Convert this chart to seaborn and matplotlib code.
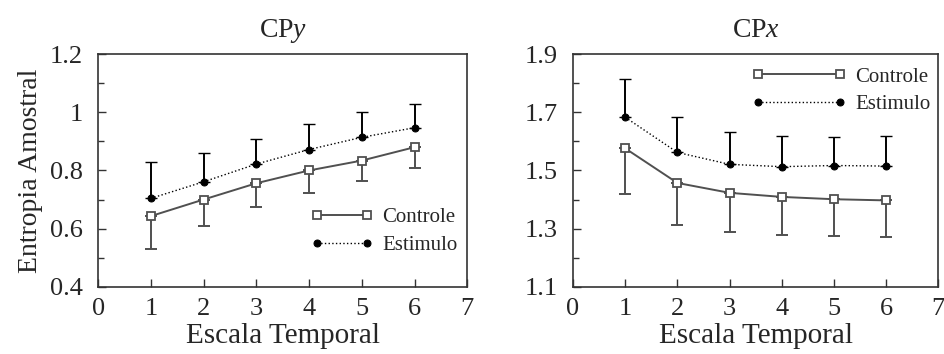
import numpy as np
import pandas as pd
import matplotlib
matplotlib.use("Agg")
import matplotlib.pyplot as plt
from matplotlib.ticker import MultipleLocator, FormatStrFormatter
import seaborn as sns

# escala temporal
escala = [1, 2, 3, 4, 5, 6]

# CPy
cpy_controle = [0.643, 0.700, 0.756, 0.800, 0.834, 0.880]
cpy_controle_err = [0.114, 0.090, 0.080, 0.079, 0.070, 0.071]
cpy_estimulo = [0.704, 0.761, 0.822, 0.872, 0.914, 0.947]
cpy_estimulo_err = [0.124, 0.100, 0.087, 0.087, 0.088, 0.083]
cpy_yticks = [0.4, 0.6, 0.8, 1.0, 1.2]

# CPx
cpx_controle = [1.576, 1.457, 1.423, 1.409, 1.401, 1.397]
cpx_controle_err = [0.157, 0.144, 0.136, 0.131, 0.126, 0.125]
cpx_estimulo = [1.683, 1.562, 1.521, 1.513, 1.517, 1.515]
cpx_estimulo_err = [0.131, 0.122, 0.111, 0.106, 0.099, 0.102]
cpx_yticks = [1.1, 1.3, 1.5, 1.7, 1.9]

sns.set_style("ticks")
plt.rcParams['font.family'] = ['Liberation Serif', 'DejaVu Serif']
plt.rcParams['mathtext.fontset'] = 'custom'
plt.rcParams['mathtext.it'] = 'Liberation Serif:italic'
plt.rcParams['mathtext.rm'] = 'Liberation Serif'

fig = plt.figure(figsize=(9.44, 3.54), dpi=100)
ax1 = fig.add_axes([0.104, 0.190, 0.391, 0.657])
ax2 = fig.add_axes([0.607, 0.190, 0.387, 0.657])

cor_ctrl = "#505050"


def painel(ax, ctrl, ctrl_err, est, est_err, yticks, titulo, yfmt, leg_pos, hlen):
    df = pd.DataFrame({
        "Escala": escala * 2,
        "Entropia": ctrl + est,
        "Grupo": ["Controle"] * 6 + ["Estimulo"] * 6,
    })
    # barras de erro (unilaterais)
    ax.errorbar(escala, ctrl, yerr=[ctrl_err, [0] * 6], fmt="none",
                ecolor=cor_ctrl, elinewidth=1.4, capsize=4, capthick=1.4, zorder=1)
    ax.errorbar(escala, est, yerr=[[0] * 6, est_err], fmt="none",
                ecolor="black", elinewidth=1.4, capsize=4, capthick=1.0, zorder=1)
    sns.lineplot(data=df[df.Grupo == "Controle"], x="Escala", y="Entropia", ax=ax,
                 color=cor_ctrl, linewidth=1.4, marker="s", markersize=5.5,
                 markerfacecolor="white", markeredgecolor=cor_ctrl, markeredgewidth=1.3,
                 label="Controle", zorder=3)
    sns.lineplot(data=df[df.Grupo == "Estimulo"], x="Escala", y="Entropia", ax=ax,
                 color="black", linewidth=1.0, linestyle=":", marker="o", markersize=5,
                 markerfacecolor="black", markeredgecolor="black",
                 label="Estimulo", zorder=3)
    ax.set_xlim(0, 7)
    ax.set_ylim(yticks[0], yticks[-1])
    ax.xaxis.set_major_locator(MultipleLocator(1))
    ax.set_yticks(yticks)
    ax.yaxis.set_minor_locator(MultipleLocator(0.1))
    ax.yaxis.set_major_formatter(FormatStrFormatter(yfmt))
    ax.tick_params(axis="both", which="both", direction="in", labelsize=19,
                   top=False, right=False, color="#333333")
    ax.tick_params(axis="both", which="major", length=6, width=1)
    ax.tick_params(axis="y", which="major", pad=11)
    ax.tick_params(axis="x", which="major", pad=8)
    ax.tick_params(axis="y", which="minor", length=4, width=1)
    for s in ax.spines.values():
        s.set_visible(True)
        s.set_linewidth(1.2)
        s.set_color("#333333")
    ax.set_title(titulo, fontsize=20, pad=12)
    ax.set_xlabel("Escala Temporal", fontsize=21, labelpad=2)
    ax.set_ylabel("")
    ax.legend(loc="upper left", bbox_to_anchor=leg_pos, frameon=False, fontsize=15,
              numpoints=2, handlelength=hlen, handletextpad=0.45, markerscale=1.0,
              labelspacing=0.4, borderpad=0, borderaxespad=0)


painel(ax1, cpy_controle, cpy_controle_err, cpy_estimulo, cpy_estimulo_err,
       cpy_yticks, r"CP$y$", "%g", (0.575, 0.34), 3.0)
painel(ax2, cpx_controle, cpx_controle_err, cpx_estimulo, cpx_estimulo_err,
       cpx_yticks, r"CP$x$", "%.1f", (0.49, 0.945), 4.5)

ax1.set_ylabel("Entropia Amostral", fontsize=20, labelpad=5)

fig.savefig("out.png", dpi=100)
